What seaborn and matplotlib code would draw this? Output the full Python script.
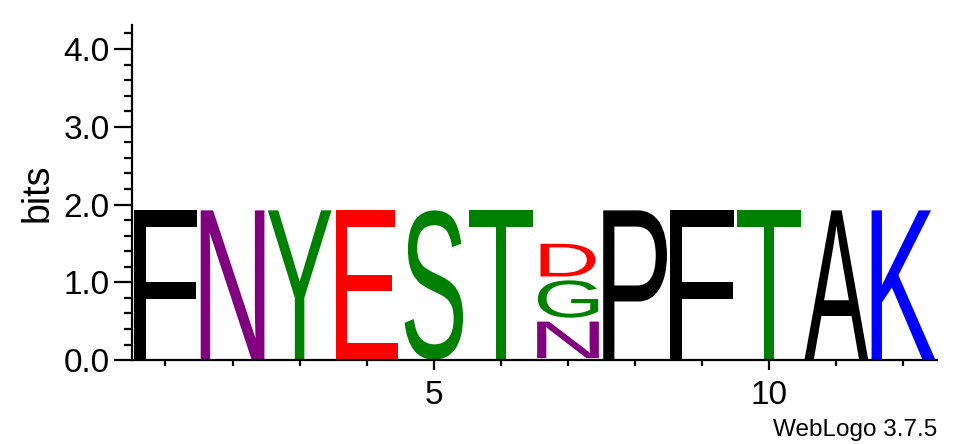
import matplotlib
matplotlib.use("Agg")
import matplotlib.pyplot as plt
from matplotlib.textpath import TextPath
from matplotlib.patches import PathPatch
from matplotlib.font_manager import FontProperties
from matplotlib.transforms import Affine2D
from matplotlib.ticker import MultipleLocator, FixedLocator
import seaborn as sns

# sequence logo data: letters stacked bottom -> top, heights in bits
positions = [1, 2, 3, 4, 5, 6, 7, 8, 9, 10, 11, 12]
stack_letters = [["F"], ["N"], ["Y"], ["E"], ["S"], ["T"],
                 ["N", "G", "D"], ["P"], ["F"], ["T"], ["A"], ["K"]]
stack_heights = [[1.93], [1.93], [1.93], [1.93], [1.93], [1.93],
                 [0.52, 0.53, 0.47], [1.93], [1.93], [1.93], [1.93], [1.93]]

# chemistry colour scheme
colors = {"F": "black", "P": "black", "A": "black",
          "N": "#800080",
          "Y": "#008000", "S": "#008000", "T": "#008000", "G": "#008000",
          "E": "#ff0000", "D": "#ff0000",
          "K": "#0000ff"}
# glyph ink width as a fraction of a column
widths = {"S": 0.87, "E": 0.92, "D": 0.82, "G": 0.9}

sns.set_style("ticks", {"axes.edgecolor": "black", "text.color": "black",
                        "xtick.color": "black", "ytick.color": "black",
                        "axes.labelcolor": "black"})
plt.rcParams['font.family'] = ['Liberation Sans', 'DejaVu Sans']

fig = plt.figure(figsize=(9.63, 4.44), dpi=100)
ax = fig.add_axes([0.137, 0.189, 0.836, 0.755])

letter_font = FontProperties(family="Liberation Sans")


def draw_letter(ax, ch, xc, y0, h, width, pad):
    """Squash a glyph into the box [xc-w/2, xc+w/2] x [y0, y0+h]."""
    tp = TextPath((0, 0), ch, size=1, prop=letter_font)
    bb = tp.get_extents()
    tr = (Affine2D()
          .translate(-bb.x0, -bb.y0)
          .scale(width / bb.width, (h - 2 * pad) / bb.height)
          .translate(xc - width / 2, y0 + pad))
    path = tr.transform_path(tp)
    ax.add_patch(PathPatch(path, facecolor=colors[ch], edgecolor="none"))


for p, lets, hs in zip(positions, stack_letters, stack_heights):
    bottom = 0.0
    stacked = len(lets) > 1
    for ch, h in zip(lets, hs):
        w = widths.get(ch, 0.92 if stacked else 0.95)
        draw_letter(ax, ch, p, bottom, h, w, 0.025 if stacked else 0.005)
        bottom += h

ax.set_xlim(0.5, 12.5)
ax.set_ylim(0, 4.31)

sns.despine(ax=ax)
for s in ["left", "bottom"]:
    ax.spines[s].set_linewidth(1.6)

ax.yaxis.set_major_locator(FixedLocator([0, 1, 2, 3, 4]))
ax.yaxis.set_minor_locator(MultipleLocator(0.2))
ax.set_yticklabels(["0.0", "1.0", "2.0", "3.0", "4.0"])
ax.xaxis.set_major_locator(FixedLocator([5, 10]))
ax.xaxis.set_minor_locator(FixedLocator(positions))

ax.tick_params(axis="y", which="major", length=13, width=1.6, labelsize=24, pad=3)
ax.tick_params(axis="y", which="minor", length=6, width=1.6)
ax.tick_params(axis="x", which="major", length=7, width=1.6, labelsize=24, pad=7)
ax.tick_params(axis="x", which="minor", length=4, width=1.6)

ax.set_ylabel("bits", fontsize=27, labelpad=6)

fig.text(937 / 963, 1 - 436 / 444, "WebLogo 3.7.5", ha="right", va="baseline",
         fontsize=17.5)

fig.savefig("out.png", dpi=100)
